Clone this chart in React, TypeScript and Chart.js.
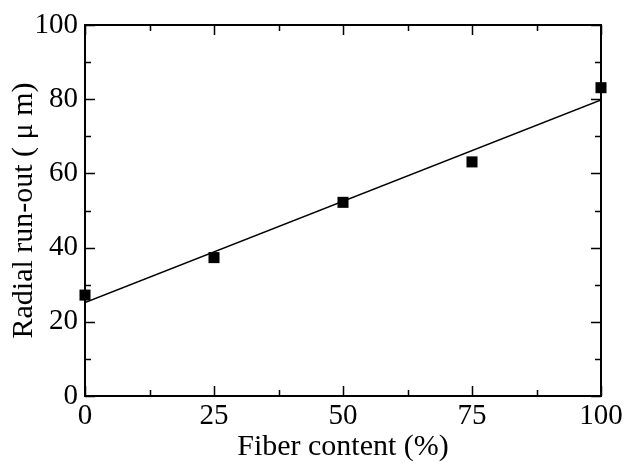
import React, { useEffect, useRef } from "react";
import { Chart, registerables } from "chart.js";

Chart.register(...registerables);

const fiberContent = [0, 25, 50, 75, 100];
const runOut = [27.2, 37.3, 52.2, 63.1, 83.1];
const fitX = [0, 100];
const fitY = [25.2, 79.8];
const xMajorTicks = [0, 25, 50, 75, 100];
const xMinorTicks = [12.5, 37.5, 62.5, 87.5];
const yMajorTicks = [0, 20, 40, 60, 80, 100];
const yMinorTicks = [10, 30, 50, 70, 90];

const FONT = "'Liberation Serif', 'Times New Roman', serif";

const framePlugin = {
  id: "frameTicks",
  beforeDatasetsDraw(chart: any) {
    const { ctx, chartArea } = chart;
    const xs = chart.scales.x;
    const ys = chart.scales.y;
    const { left, right, top, bottom } = chartArea;
    ctx.save();
    ctx.strokeStyle = "#000";
    ctx.lineWidth = 2;
    ctx.strokeRect(left, top, right - left, bottom - top);
    ctx.lineWidth = 1.5;
    const major = 10;
    const minor = 6;
    ctx.beginPath();
    const xt = (v: number, len: number) => {
      const px = Math.round(xs.getPixelForValue(v)) + 0.5;
      ctx.moveTo(px, bottom);
      ctx.lineTo(px, bottom - len);
      ctx.moveTo(px, top);
      ctx.lineTo(px, top + len);
    };
    const yt = (v: number, len: number) => {
      const py = Math.round(ys.getPixelForValue(v)) + 0.5;
      ctx.moveTo(left, py);
      ctx.lineTo(left + len, py);
      ctx.moveTo(right, py);
      ctx.lineTo(right - len, py);
    };
    xMajorTicks.forEach((v) => xt(v, major));
    xMinorTicks.forEach((v) => xt(v, minor));
    yMajorTicks.forEach((v) => yt(v, major));
    yMinorTicks.forEach((v) => yt(v, minor));
    ctx.stroke();
    ctx.restore();
  },
};

export default function App() {
  const ref = useRef<HTMLCanvasElement | null>(null);
  useEffect(() => {
    document.body.style.margin = "0";
    if (!ref.current) return;
    const chart = new Chart(ref.current, {
      type: "scatter",
      data: {
        datasets: [
          {
            label: "fit",
            data: fitX.map((x, i) => ({ x, y: fitY[i] })),
            showLine: true,
            borderColor: "#000",
            borderWidth: 1.5,
            pointRadius: 0,
            fill: false,
          },
          {
            label: "measured",
            data: fiberContent.map((x, i) => ({ x, y: runOut[i] })),
            pointStyle: "rect",
            pointRadius: 7.8,
            backgroundColor: "#000",
            borderColor: "#000",
            borderWidth: 0,
            clip: false,
          },
        ],
      },
      options: {
        animation: false,
        responsive: true,
        maintainAspectRatio: false,
        layout: { padding: { top: 25, right: 25, left: 0, bottom: 0 } },
        plugins: { legend: { display: false }, tooltip: { enabled: false } },
        scales: {
          x: {
            type: "linear",
            min: 0,
            max: 100,
            afterBuildTicks: (s: any) => {
              s.ticks = xMajorTicks.map((v) => ({ value: v }));
            },
            afterFit: (s: any) => {
              s.height = 69;
            },
            grid: { display: false, drawTicks: false },
            border: { display: false },
            ticks: {
              color: "#000",
              padding: 3,
              maxRotation: 0,
              font: { family: FONT, size: 29 },
            },
            title: {
              display: true,
              text: "Fiber content (%)",
              color: "#000",
              font: { family: FONT, size: 30 },
              padding: { top: 0, bottom: 0 },
            },
          },
          y: {
            type: "linear",
            min: 0,
            max: 100,
            afterBuildTicks: (s: any) => {
              s.ticks = yMajorTicks.map((v) => ({ value: v }));
            },
            afterFit: (s: any) => {
              s.width = 85;
            },
            grid: { display: false, drawTicks: false },
            border: { display: false },
            ticks: {
              color: "#000",
              padding: 7,
              font: { family: FONT, size: 29 },
            },
            title: {
              display: true,
              text: "Radial run-out ( μ m)",
              color: "#000",
              font: { family: FONT, size: 30 },
              padding: { top: 6, bottom: 0 },
            },
          },
        },
      },
      plugins: [framePlugin],
    });
    return () => chart.destroy();
  }, []);
  return (
    <div style={{ width: 626, height: 465, position: "relative" }}>
      <canvas ref={ref} />
    </div>
  );
}
